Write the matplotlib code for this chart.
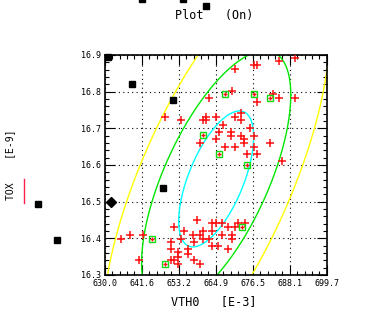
import numpy as np
import matplotlib
matplotlib.use("Agg")
import matplotlib.pyplot as plt
from matplotlib.ticker import AutoMinorLocator, FixedLocator
from matplotlib.lines import Line2D

# ---- data ----
x_ticks = [630.0, 641.6, 653.2, 664.9, 676.5, 688.1, 699.7]
x_tick_labels = ["630.0", "641.6", "653.2", "664.9", "676.5", "688.1", "699.7"]
y_ticks = [16.3, 16.4, 16.5, 16.6, 16.7, 16.8, 16.9]
y_tick_labels = ["16.3", "16.4", "16.5", "16.6", "16.7", "16.8", "16.9"]

# red '+' samples
red_x = [648.93, 653.96, 660.71, 661.80, 661.80, 664.94, 670.82, 669.97, 662.84,
         677.82, 676.72, 677.91, 684.88, 689.84, 682.93, 684.88, 689.84,
         672.89, 670.91, 672.89, 666.99, 669.81, 669.81, 665.89, 664.94, 659.92,
         672.89, 673.89, 673.89, 676.87, 681.90, 667.86, 670.85, 676.78,
         674.83, 677.91, 685.82, 675.62,
         635.02, 637.94, 641.93, 640.86, 651.85, 650.82, 650.82, 654.99, 653.96,
         652.92, 652.92, 650.82, 651.85, 652.92, 656.06, 656.06, 657.94, 657.94,
         659.92, 658.88, 657.72, 659.83, 660.86, 660.86, 662.84, 663.78, 664.85,
         663.78, 663.78, 665.57, 666.92, 666.92, 668.81, 669.87, 669.87, 670.91,
         671.95, 674.05, 668.81]
red_y = [16.732, 16.723, 16.723, 16.732, 16.723, 16.732, 16.862, 16.802, 16.782,
         16.773, 16.873, 16.873, 16.884, 16.893, 16.793, 16.782, 16.782,
         16.742, 16.732, 16.723, 16.710, 16.691, 16.680, 16.691, 16.670, 16.659,
         16.680, 16.670, 16.659, 16.680, 16.659, 16.650, 16.650, 16.650,
         16.630, 16.630, 16.611, 16.700,
         16.398, 16.410, 16.410, 16.341, 16.430, 16.389, 16.370, 16.421, 16.398,
         16.363, 16.350, 16.341, 16.341, 16.329, 16.370, 16.357, 16.389, 16.341,
         16.329, 16.450, 16.410, 16.410, 16.421, 16.398, 16.398, 16.441, 16.441,
         16.421, 16.379, 16.379, 16.441, 16.410, 16.430, 16.410, 16.398, 16.430,
         16.441, 16.441, 16.370]

# boxed (highlighted) samples
box_x = [667.86, 676.87, 681.90, 660.77, 665.89, 674.77, 644.85, 648.93, 673.01]
box_y = [16.793, 16.793, 16.782, 16.682, 16.630, 16.601, 16.398, 16.329, 16.430]

# black square markers (drawn unclipped)
sq_x = [631.04, 638.67, 651.35, 648.40, 609.05, 615.00, 641.62, 654.49, 661.71]
sq_y = [16.895, 16.822, 16.778, 16.537, 16.494, 16.396, 17.053, 17.053, 17.034]
dia_x = [632.0]
dia_y = [16.5]

# confidence ellipses
ell_cx = 665.0
ell_cy = 16.562
ell_sx = [11.77, 23.42, 35.57]
ell_sy = [0.1854, 0.3501, 0.5645]
ell_rho = [0.62, 0.654, 0.695]
ell_colors = ["#00ffff", "#00e600", "#ffff00"]

# ---- figure ----
fig = plt.figure(figsize=(3.81, 3.22), dpi=100)
ax = fig.add_axes([104.7 / 381, 47 / 322, 222 / 381, 220 / 322])
ax.set_xlim(630.0, 699.7)
ax.set_ylim(16.3, 16.9)

mono = "DejaVu Sans Mono"

ax.xaxis.set_major_locator(FixedLocator(np.linspace(630.0, 699.7, 7)))
ax.yaxis.set_major_locator(FixedLocator(np.linspace(16.3, 16.9, 7)))
ax.set_xticklabels(x_tick_labels, fontfamily=mono, fontsize=6)
ax.set_yticklabels(y_tick_labels, fontfamily=mono, fontsize=6)
ax.xaxis.set_minor_locator(AutoMinorLocator(5))
ax.yaxis.set_minor_locator(AutoMinorLocator(5))
ax.tick_params(which="both", direction="in", top=True, right=True, color="black")
ax.tick_params(which="major", length=7, width=0.8, pad=3)
ax.tick_params(which="minor", length=3, width=0.8)
for s in ax.spines.values():
    s.set_linewidth(1.2)
    s.set_color("black")

ax.grid(True, which="major", color="black", linestyle=(0, (1, 3)), linewidth=0.8)
ax.set_axisbelow(True)

# ellipses
t = np.linspace(0, 2 * np.pi, 600)
for sx, sy, rho, c in zip(ell_sx, ell_sy, ell_rho, ell_colors):
    ex = ell_cx + sx * np.cos(t)
    ey = ell_cy + sy * (rho * np.cos(t) + np.sqrt(1 - rho ** 2) * np.sin(t))
    ax.plot(ex, ey, color=c, linewidth=1.0, zorder=2)

# points
ax.plot(red_x, red_y, linestyle="none", marker="+", markersize=5.5,
        markeredgewidth=1.1, color="#ff1010", zorder=3)
ax.plot(box_x, box_y, linestyle="none", marker="s", markersize=5,
        markerfacecolor="none", markeredgecolor="#11dd11", markeredgewidth=1.0, zorder=4)
ax.plot(box_x, box_y, linestyle="none", marker="+", markersize=3,
        markeredgewidth=1.0, color="#ff1010", zorder=4)
ax.plot(sq_x, sq_y, linestyle="none", marker="s", markersize=5, color="black",
        clip_on=False, zorder=5)
ax.plot(dia_x, dia_y, linestyle="none", marker="D", markersize=5, color="black",
        clip_on=False, zorder=5)

# texts
fig.text(214 / 381, 307 / 322, "Plot   (On)", fontfamily=mono, fontsize=8.5,
         ha="center", va="center")
fig.text(214 / 381, 20 / 322, "VTH0   [E-3]", fontfamily=mono, fontsize=8.5,
         ha="center", va="center")
fig.text(10 / 381, 157 / 322, "TOX    [E-9]", fontfamily=mono, fontsize=7,
         ha="center", va="center", rotation=90)
fig.add_artist(Line2D([24 / 381, 24 / 381], [119 / 322, 143 / 322],
                      transform=fig.transFigure, color="#ff2050", linewidth=1.0))

fig.savefig("out.png", dpi=100)
